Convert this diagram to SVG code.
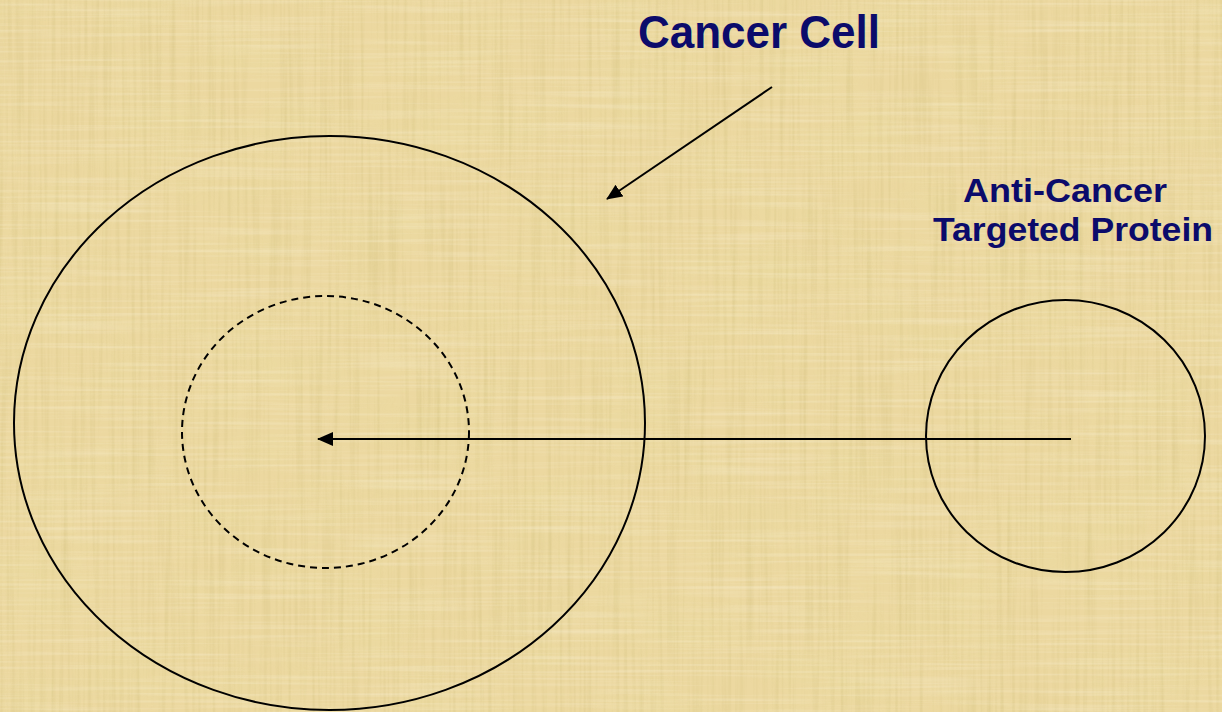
<svg xmlns="http://www.w3.org/2000/svg" width="1222" height="712" viewBox="0 0 1222 712">
<style>
.lbl{font-family:"Liberation Sans",Arial,sans-serif;font-weight:bold;fill:#0b0b6b}
.ln{fill:none;stroke:#000;stroke-width:2}
.dash{fill:none;stroke:#000;stroke-width:2;stroke-dasharray:7 5}
</style>
<defs>
<marker id="ah" viewBox="0 0 16 14" refX="15" refY="7" markerWidth="16" markerHeight="14" markerUnits="userSpaceOnUse" orient="auto">
<path d="M0,0 L16,7 L0,14 Z" fill="#000"/>
</marker>
<filter id="vfib" x="0" y="0" width="100%" height="100%">
<feTurbulence type="fractalNoise" baseFrequency="0.25 0.006" numOctaves="2" seed="3"/>
<feColorMatrix type="matrix" values="0 0 0 0 0.55  0 0 0 0 0.45  0 0 0 0 0.15  0 0 0 1.4 -0.62"/>
</filter>
<filter id="hfib" x="0" y="0" width="100%" height="100%">
<feTurbulence type="fractalNoise" baseFrequency="0.006 0.3" numOctaves="2" seed="7"/>
<feColorMatrix type="matrix" values="0 0 0 0 1  0 0 0 0 0.97  0 0 0 0 0.85  0 0 0 1.4 -0.62"/>
</filter>
<filter id="blot" x="0" y="0" width="100%" height="100%">
<feTurbulence type="fractalNoise" baseFrequency="0.01 0.02" numOctaves="3" seed="11"/>
<feColorMatrix type="matrix" values="0 0 0 0 0.82  0 0 0 0 0.72  0 0 0 0 0.35  0 0 0 1.2 -0.45"/>
</filter>
</defs>
<g id="background">
<rect width="1222" height="712" fill="#ecd8a0"/>
<rect width="1222" height="712" filter="url(#blot)" opacity="0.6"/>
<rect width="1222" height="712" filter="url(#vfib)" opacity="0.4"/>
<rect width="1222" height="712" filter="url(#hfib)" opacity="0.4"/>
</g>
<g id="cancer-cell">
<ellipse class="ln" cx="329.5" cy="423" rx="315.5" ry="287"/>
</g>
<g id="nucleus">
<ellipse class="dash" cx="325.5" cy="432" rx="143.5" ry="136"/>
</g>
<g id="protein">
<ellipse class="ln" cx="1065.5" cy="436" rx="139.5" ry="136"/>
</g>
<g id="label-cancer-cell">
<text class="lbl" x="638" y="48" font-size="46" textLength="242" lengthAdjust="spacingAndGlyphs">Cancer Cell</text>
</g>
<g id="label-protein">
<text class="lbl" x="963" y="202" font-size="34" textLength="204" lengthAdjust="spacingAndGlyphs">Anti-Cancer</text>
<text class="lbl" x="933" y="241" font-size="34" textLength="280" lengthAdjust="spacingAndGlyphs">Targeted Protein</text>
</g>
<g id="connectors">
<line class="ln" x1="772" y1="87" x2="607" y2="199" marker-end="url(#ah)"/>
<line class="ln" x1="1071" y1="439" x2="318" y2="439" marker-end="url(#ah)"/>
</g>
</svg>
